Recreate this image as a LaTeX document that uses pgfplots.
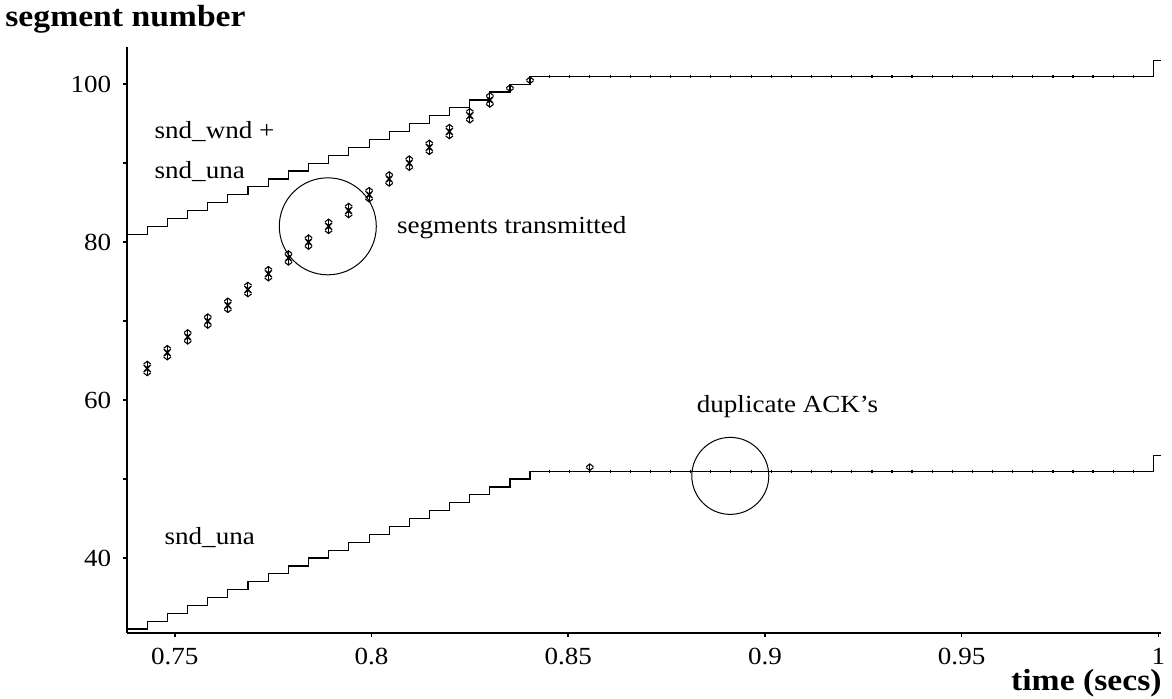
\documentclass[border=0pt]{standalone}
\usepackage{fontspec}
\setmainfont{Liberation Serif}[FakeStretch=1.1]
\usepackage{pgfplots}
\pgfplotsset{compat=1.18}
\usetikzlibrary{arrows.meta}
\newcommand\regfont{\fontsize{12.3}{14}\selectfont}
\newcommand\labfont{\fontsize{15.3}{18}\selectfont\bfseries}
\begin{document}
\begin{tikzpicture}
\begin{axis}[
  scale only axis, width=516.9pt, height=292.9pt,
  xmin=0.73794, xmax=1.0007, ymin=30.54, ymax=104.72,
  axis x line*=bottom, axis y line*=left,
  axis line style={line width=1pt},
  tick align=outside, major tick length=2pt, minor tick length=2pt,
  tick style={line width=0.8pt, black},
  xtick={0.75,0.8,0.85,0.9,0.95,1},
  ytick={40,60,80,100}, minor ytick={50,70,90},
  /pgf/number format/assume math mode=true,
  ticklabel style={font=\regfont},
  xticklabel style={/pgf/number format/fixed, /pgf/number format/precision=2, yshift=-2pt},
  yticklabel style={xshift=-2.5pt},
  clip=false,
]
% snd_una
\addplot[const plot, black, line width=0.6pt] coordinates {
(0.73794,31) (0.7430,32) (0.7481,33) (0.7533,34) (0.7584,35) (0.7635,36)
(0.7686,37) (0.7738,38) (0.7789,39) (0.7840,40) (0.7891,41) (0.7942,42)
(0.7994,43) (0.8045,44) (0.8096,45) (0.8147,46) (0.8198,47) (0.8250,48)
(0.8301,49) (0.8352,50) (0.8403,51) (0.9988,53) (1.0007,53)};
% snd_wnd + snd_una
\addplot[const plot, black, line width=0.6pt] coordinates {
(0.73794,81) (0.7430,82) (0.7481,83) (0.7533,84) (0.7584,85) (0.7635,86)
(0.7686,87) (0.7738,88) (0.7789,89) (0.7840,90) (0.7891,91) (0.7942,92)
(0.7994,93) (0.8045,94) (0.8096,95) (0.8147,96) (0.8198,97) (0.8250,98)
(0.8301,99) (0.8352,100) (0.8403,101) (0.9988,103) (1.0007,103)};
% ACK ticks on flat parts
\addplot[only marks, mark=|, mark size=0.8pt, mark options={line width=0.6pt, black}] coordinates {
(0.8453,51) (0.8504,51) (0.8555,51) (0.8607,51) (0.8658,51) (0.8709,51)
(0.8760,51) (0.8811,51) (0.8862,51) (0.8913,51) (0.8965,51) (0.9016,51)
(0.9067,51) (0.9118,51) (0.9169,51) (0.9220,51) (0.9272,51) (0.9323,51)
(0.9374,51) (0.9425,51) (0.9476,51) (0.9527,51) (0.9579,51) (0.9630,51)
(0.9681,51) (0.9732,51) (0.9783,51) (0.9834,51) (0.9886,51) (0.9937,51)
(0.8453,101) (0.8504,101) (0.8555,101) (0.8607,101) (0.8658,101) (0.8709,101)
(0.8760,101) (0.8811,101) (0.8862,101) (0.8913,101) (0.8965,101) (0.9016,101)
(0.9067,101) (0.9118,101) (0.9169,101) (0.9220,101) (0.9272,101) (0.9323,101)
(0.9374,101) (0.9425,101) (0.9476,101) (0.9527,101) (0.9579,101) (0.9630,101)
(0.9681,101) (0.9732,101) (0.9783,101) (0.9834,101) (0.9886,101) (0.9937,101)};
% segments transmitted (each arrow spans one segment)
\addplot[quiver={u=0,v=1}, black, line width=0.55pt, >={Straight Barb[length=1.4pt,width=3.6pt]}, <->] coordinates {
(0.7430,63) (0.7481,65) (0.7533,67) (0.7584,69) (0.7635,71) (0.7686,73)
(0.7738,75) (0.7789,77) (0.7840,79) (0.7891,81) (0.7942,83) (0.7994,85)
(0.8045,87) (0.8096,89) (0.8147,91) (0.8198,93) (0.8250,95) (0.8301,97)
(0.7430,64) (0.7481,66) (0.7533,68) (0.7584,70) (0.7635,72) (0.7686,74)
(0.7738,76) (0.7789,78) (0.7840,80) (0.7891,82) (0.7942,84) (0.7994,86)
(0.8045,88) (0.8096,90) (0.8147,92) (0.8198,94) (0.8250,96) (0.8301,98)
(0.8352,99) (0.8403,100) (0.8555,51)};
\addplot[only marks, mark=x, mark size=1.8pt, mark options={line width=0.7pt, black}] coordinates {
(0.7430,64) (0.7481,66) (0.7533,68) (0.7584,70) (0.7635,72) (0.7686,74)
(0.7738,76) (0.7789,78) (0.7840,80) (0.7891,82) (0.7942,84) (0.7994,86)
(0.8045,88) (0.8096,90) (0.8147,92) (0.8198,94) (0.8250,96) (0.8301,98)};
% annotations
\draw[line width=0.5pt] (axis cs:0.7889,82.0) circle[radius=24.25pt];
\draw[line width=0.5pt] (axis cs:0.8912,50.4) circle[radius=19.25pt];
\node[anchor=base west, inner sep=0, font=\regfont] at (axis cs:0.74479,93.13) {snd\_wnd +};
\node[anchor=base west, inner sep=0, font=\regfont] at (axis cs:0.74479,88.06) {snd\_una};
\node[anchor=base west, inner sep=0, font=\regfont] at (axis cs:0.74733,41.77) {snd\_una};
\node[anchor=base west, inner sep=0, font=\regfont] at (axis cs:0.80643,81.14) {segments transmitted};
\node[anchor=base west, inner sep=0, font=\regfont] at (axis cs:0.88261,58.48) {duplicate ACK's};
\node[anchor=base west, inner sep=0, font=\labfont] at ([shift={(-61.15pt,303.0pt)}]rel axis cs:0,0) {segment number};
\node[anchor=base east, inner sep=0, font=\labfont] at ([shift={(517.35pt,-28.8pt)}]rel axis cs:0,0) {time (secs)};
\end{axis}
\pgfresetboundingbox
\path ([shift={(-63.65pt,-32.65pt)}]current axis.south west) rectangle ([shift={(522.35pt,316.35pt)}]current axis.south west);
\end{tikzpicture}
\end{document}
